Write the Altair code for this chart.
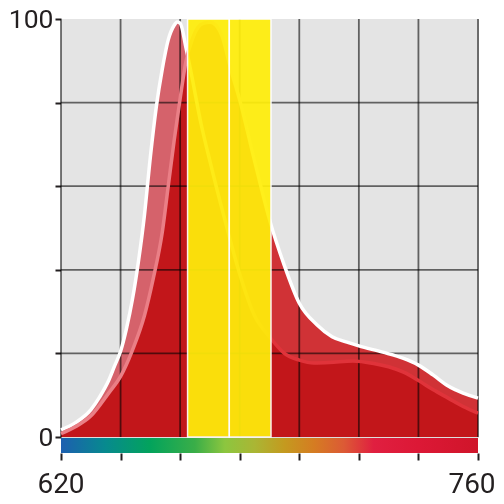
import altair as alt
import pandas as pd

# ---- data ----
# spectrum A (sharp peak near 659 nm)
a_wl = [620, 625, 630, 633, 636, 638, 640, 642, 644, 646, 648, 650, 652, 654, 656, 658, 659, 660,
        662, 664, 667, 670, 675, 680, 685, 690, 695, 700, 705, 710, 718, 725, 730, 735, 740, 745,
        750, 755, 760]
a_val = [1.7, 3.5, 6.5, 9.6, 13.5, 17, 20.5, 26, 33, 42, 53, 67, 79, 88, 95, 98.5, 99.3, 99,
         93, 86, 75, 66, 52, 39, 29, 24, 20, 18.4, 17.7, 17.8, 18.2, 17.6, 16.8, 15.5, 13.5, 11.3,
         9.3, 7.3, 5.7]

# spectrum B (broader peak near 670 nm)
b_wl = [620, 625, 630, 636, 640, 644, 648, 651, 654, 656, 658, 660, 662, 664, 666, 668, 670, 672,
        674, 677, 680, 685, 690, 695, 700, 706, 711, 716, 720, 728, 735, 740, 745, 750, 755, 760]
b_val = [0.8, 2.5, 5, 10.5, 14.5, 20.8, 29, 38, 49, 60, 71, 81, 90, 95, 98, 99, 99.2, 98.5,
         96, 88, 80.6, 66, 52, 41, 32, 26.8, 24, 22.7, 21.8, 20.3, 18.8, 17.2, 14.8, 12.2, 10.5, 9.3]

# yellow pass bands
band_start = [662.5, 676.5]
band_end = [676.5, 690.5]

# axis ticks / grid / labels
x_ticks = [620, 640, 660, 680, 700, 720, 740, 760]
x_labels_left = [620]
x_labels_right = [760]
y_ticks = [0, 20, 40, 60, 80, 100]
y_grid = [20, 40, 60, 80]

# wavelength colour bar
bar_wl = [620, 635, 650, 665, 675, 685, 695, 705, 715, 725, 740, 760]
bar_col = ["#1d5fb0", "#078a8e", "#03a35c", "#3aae48", "#8cc63f", "#aab634", "#c49a1f",
           "#d57c22", "#dc5a35", "#e01f40", "#dc1836", "#d0152a"]

W, H = 417, 418
FONT = "Roboto"
TXT = "#231f20"
BG = "#e4e4e4"

dfA = pd.DataFrame({"wl": a_wl, "v": a_val})
dfB = pd.DataFrame({"wl": b_wl, "v": b_val})
dfBand = pd.DataFrame({"s": band_start, "e": band_end})
dfX = pd.DataFrame({"g": x_ticks})
dfY = pd.DataFrame({"g": y_grid})
dfBar = pd.DataFrame({"s": [bar_wl[0]], "e": [bar_wl[-1]]})
dfLL = pd.DataFrame({"g": x_labels_left, "t": [str(v) for v in x_labels_left]})
dfLR = pd.DataFrame({"g": x_labels_right, "t": [str(v) for v in x_labels_right]})

xscale = alt.Scale(domain=[620, 760], nice=False, zero=False)
yscale = alt.Scale(domain=[0, 100], nice=False)

x_axis = alt.Axis(values=x_ticks, grid=False, domain=False, ticks=True, tickSize=7, tickWidth=2,
                  tickColor=TXT, offset=16, labels=False, title=None)
y_axis = alt.Axis(values=y_ticks, grid=False, domain=False, ticks=True, tickSize=6, tickWidth=2,
                  tickColor=TXT, labelFontSize=26.5, labelFont=FONT, labelColor=TXT,
                  labelPadding=2, labelOverlap=False, title=None,
                  labelExpr="datum.value == 0 || datum.value == 100 ? datum.label : ''")


def X(field):
    return alt.X(field, type="quantitative", scale=xscale, axis=x_axis)


def Y(field):
    return alt.Y(field, type="quantitative", scale=yscale, axis=y_axis)


def hgrad(stops):
    return alt.Gradient(gradient="linear", x1=0, x2=1, y1=0, y2=0,
                        stops=[alt.GradientStop(color=c, offset=o) for o, c in stops])


# plot background as a mark so that the multiply blends see it
bg = alt.Chart(dfBar).mark_rect(fill=BG).encode(
    x=X("s"), x2="e", y=alt.Y(datum=100, type="quantitative", scale=yscale, axis=y_axis),
    y2=alt.Y2(datum=0))

areaA = alt.Chart(dfA).mark_area(interpolate="monotone", color="#d5626b").encode(x=X("wl"), y=Y("v"))
areaB = alt.Chart(dfB).mark_area(interpolate="monotone", color="#e9383c", blend="multiply").encode(
    x=X("wl"), y=Y("v"))

vgrid = alt.Chart(dfX).mark_rule(color="#6c6c6c", strokeWidth=1.8, blend="multiply").encode(
    x=X("g"), y=alt.value(0), y2=alt.value(H))
hgrid = alt.Chart(dfY).mark_rule(color="#6c6c6c", strokeWidth=1.8, blend="multiply").encode(
    y=Y("g"), x=alt.value(0), x2=alt.value(W))

lineA = alt.Chart(dfA).mark_line(
    interpolate="monotone", strokeWidth=3.5,
    stroke=hgrad([(0, "#ffffff"), (0.31, "#ffffff"), (0.5, "#e0333a"), (1, "#e0333a")])
).encode(x=X("wl"), y=Y("v"))
lineB = alt.Chart(dfB).mark_line(
    interpolate="monotone", strokeWidth=3.5,
    stroke=hgrad([(0, "#ea7f86"), (0.31, "#ea7f86"), (0.45, "#ffffff"), (1, "#ffffff")])
).encode(x=X("wl"), y=Y("v"))

bands = alt.Chart(dfBand).mark_rect(fill="#ffee0a", opacity=0.93, stroke="white", strokeWidth=1.5).encode(
    x=X("s"), x2="e", y=alt.Y(datum=100, type="quantitative", scale=yscale, axis=y_axis),
    y2=alt.Y2(datum=0))

bar_stops = [((w - bar_wl[0]) / (bar_wl[-1] - bar_wl[0]), c) for w, c in zip(bar_wl, bar_col)]
cbar = alt.Chart(dfBar).mark_rect(fill=hgrad(bar_stops)).encode(
    x=X("s"), x2="e", y=alt.value(H + 1), y2=alt.value(H + 16))

lab_style = dict(font=FONT, fontSize=28, color=TXT, baseline="top", align="center")
labL = alt.Chart(dfLL).mark_text(**lab_style).encode(x=X("g"), y=alt.value(H + 34), text="t:N")
labR = alt.Chart(dfLR).mark_text(dx=-6, **lab_style).encode(x=X("g"), y=alt.value(H + 34), text="t:N")

chart = alt.layer(bg, areaA, areaB, vgrid, hgrid, lineA, lineB, bands, cbar, labL, labR).properties(
    width=W, height=H,
    autosize=alt.AutoSizeParams(type="none"),
    padding={"left": 53, "top": 11, "right": 18, "bottom": 59},
).configure_view(fill=BG, stroke=None).configure(font=FONT)

chart.save("out.html", embed_options={"renderer": "svg", "actions": False})
